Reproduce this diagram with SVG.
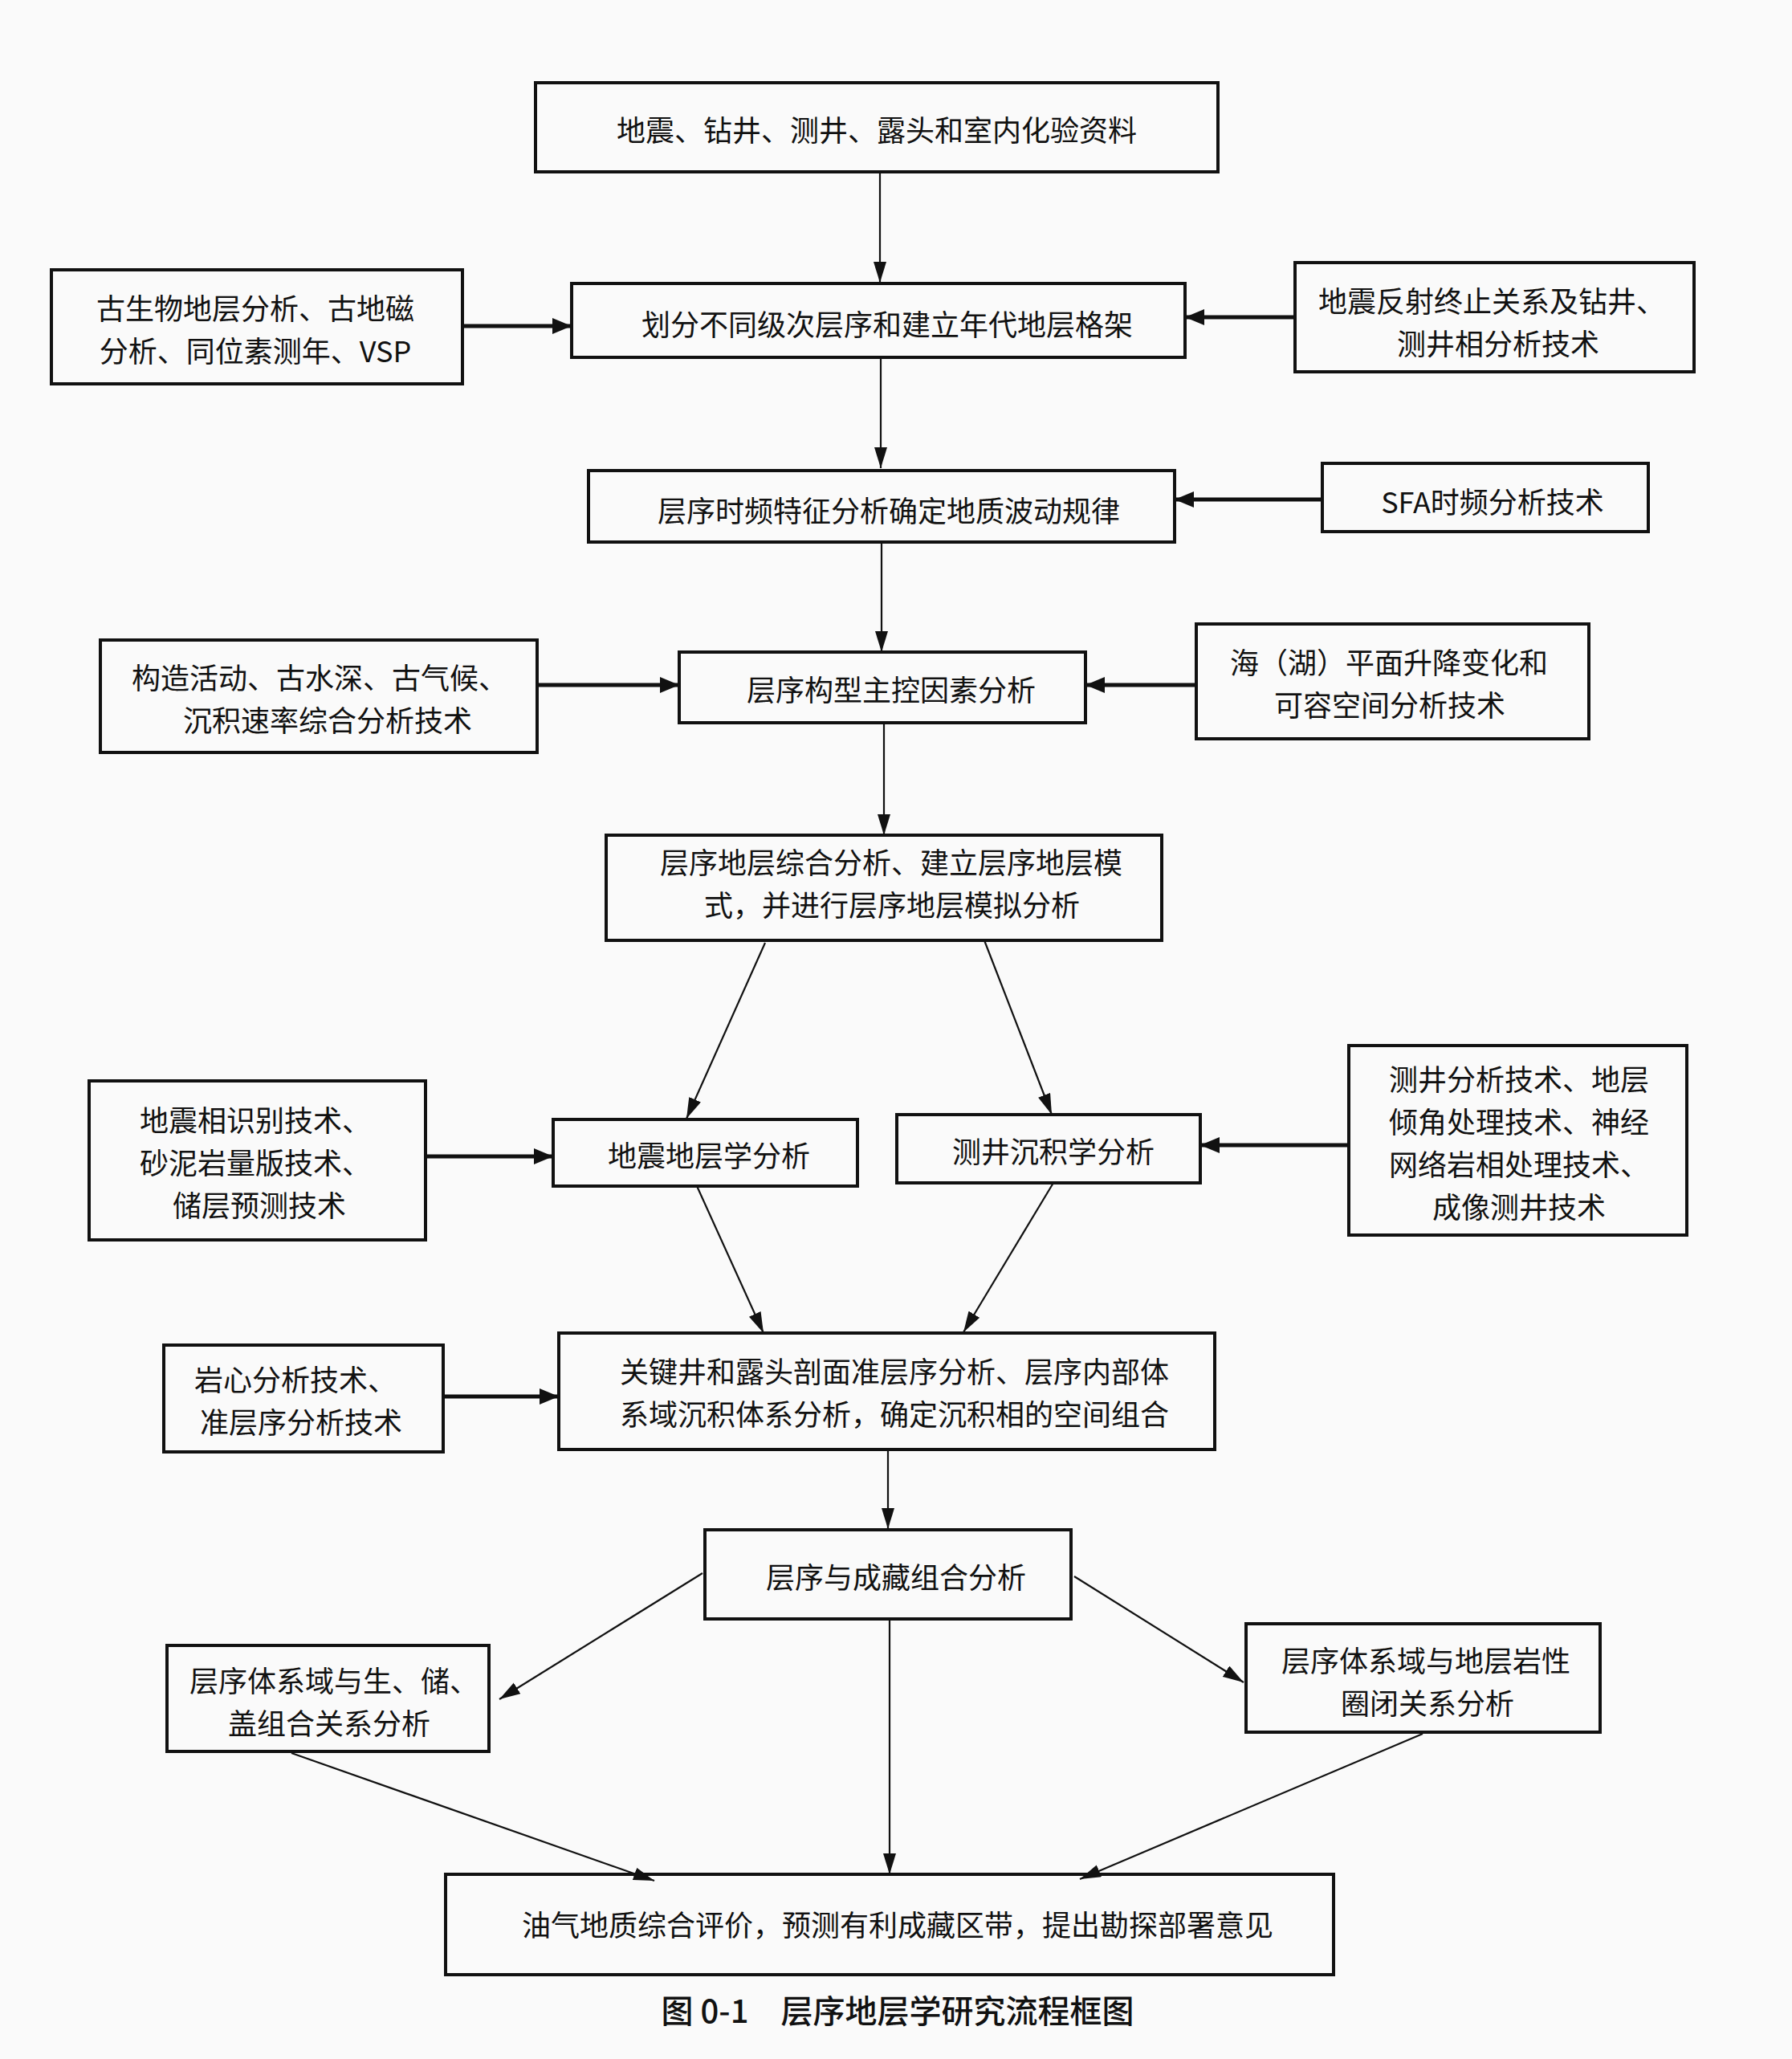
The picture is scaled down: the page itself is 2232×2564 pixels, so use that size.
<svg xmlns="http://www.w3.org/2000/svg" width="2232" height="2564" viewBox="0 0 2232 2564">
<defs>
<style>
.box{fill:none;stroke:#111;stroke-width:4}
.t{font-family:"Noto Sans CJK SC","Noto Sans",sans-serif;font-size:36px;fill:#111;text-anchor:middle;dominant-baseline:central}
.thin{stroke:#111;stroke-width:2.2;fill:none;marker-end:url(#ah)}
.thick{stroke:#111;stroke-width:5;fill:none;marker-end:url(#ahb)}
.cap{font-family:"Noto Sans CJK SC","Noto Sans",sans-serif;font-size:40px;font-weight:500;fill:#111;text-anchor:middle;dominant-baseline:central}
</style>
<marker id="ah" markerUnits="userSpaceOnUse" markerWidth="28" markerHeight="18" refX="26" refY="8" orient="auto"><path d="M0,0 L26,8 L0,16 z" fill="#111"/></marker>
<marker id="ahb" markerUnits="userSpaceOnUse" markerWidth="26" markerHeight="22" refX="24" refY="10" orient="auto"><path d="M0,0 L24,10 L0,20 z" fill="#111"/></marker>
</defs>
<rect width="2232" height="2564" fill="#fafafa"/>

<g id="connectors">
<line class="thin" x1="1096" y1="214" x2="1096" y2="352"/>
<line class="thin" x1="1097" y1="445" x2="1097" y2="583"/>
<line class="thin" x1="1098" y1="675" x2="1098" y2="812"/>
<line class="thin" x1="1101" y1="900" x2="1101" y2="1040"/>
<line class="thin" x1="1106" y1="1805" x2="1106" y2="1904"/>
<line class="thin" x1="1108" y1="2016" x2="1108" y2="2334"/>
<line class="thick" x1="576" y1="406" x2="712" y2="406"/>
<line class="thick" x1="1613" y1="395" x2="1476" y2="395"/>
<line class="thick" x1="1647" y1="622" x2="1463" y2="622"/>
<line class="thick" x1="669" y1="853" x2="846" y2="853"/>
<line class="thick" x1="1490" y1="853" x2="1352" y2="853"/>
<line class="thick" x1="530" y1="1440" x2="689" y2="1440"/>
<line class="thick" x1="1680" y1="1426" x2="1495" y2="1426"/>
<line class="thick" x1="552" y1="1739" x2="696" y2="1739"/>
<line class="thin" x1="953" y1="1174" x2="855" y2="1393"/>
<line class="thin" x1="1226" y1="1171" x2="1310" y2="1388"/>
<line class="thin" x1="868" y1="1477" x2="951" y2="1660"/>
<line class="thin" x1="1312" y1="1473" x2="1200" y2="1659"/>
<line class="thin" x1="875" y1="1959" x2="622" y2="2116"/>
<line class="thin" x1="1338" y1="1963" x2="1549" y2="2095"/>
<line class="thin" x1="363" y1="2183" x2="815" y2="2342"/>
<line class="thin" x1="1772" y1="2159" x2="1345" y2="2340"/>
</g>

<g id="n1"><rect class="box" x="667" y="103" width="850" height="111"/><text class="t" x="1092" y="160">地震、钻井、测井、露头和室内化验资料</text></g>
<g id="n2"><rect class="box" x="712" y="353" width="764" height="92"/><text class="t" x="1105" y="402">划分不同级次层序和建立年代地层格架</text></g>
<g id="n3"><rect class="box" x="64" y="336" width="512" height="142"/><text class="t"><tspan x="318" y="381.5">古生物地层分析、古地磁</tspan><tspan x="318" y="434.5">分析、同位素测年、VSP</tspan></text></g>
<g id="n4"><rect class="box" x="1613" y="327" width="497" height="136"/><text class="t"><tspan x="1858" y="372.5">地震反射终止关系及钻井、</tspan><tspan x="1866" y="425.5">测井相分析技术</tspan></text></g>
<g id="n5"><rect class="box" x="733" y="586" width="730" height="89"/><text class="t" x="1107" y="634">层序时频特征分析确定地质波动规律</text></g>
<g id="n6"><rect class="box" x="1647" y="577" width="406" height="85"/><text class="t" x="1859" y="623">SFA时频分析技术</text></g>
<g id="n7"><rect class="box" x="846" y="812" width="506" height="88"/><text class="t" x="1110" y="857">层序构型主控因素分析</text></g>
<g id="n8"><rect class="box" x="125" y="797" width="544" height="140"/><text class="t"><tspan x="398" y="841.5">构造活动、古水深、古气候、</tspan><tspan x="408" y="894.5">沉积速率综合分析技术</tspan></text></g>
<g id="n9"><rect class="box" x="1490" y="777" width="489" height="143"/><text class="t"><tspan x="1730" y="822.5">海（湖）平面升降变化和</tspan><tspan x="1731" y="875.5">可容空间分析技术</tspan></text></g>
<g id="n10"><rect class="box" x="755" y="1040" width="692" height="131"/><text class="t"><tspan x="1110" y="1071.5">层序地层综合分析、建立层序地层模</tspan><tspan x="1111" y="1124.5">式，并进行层序地层模拟分析</tspan></text></g>
<g id="n11"><rect class="box" x="111" y="1346" width="419" height="198"/><text class="t"><tspan x="318" y="1393">地震相识别技术、</tspan><tspan x="318" y="1446">砂泥岩量版技术、</tspan><tspan x="323" y="1499">储层预测技术</tspan></text></g>
<g id="n12"><rect class="box" x="689" y="1394" width="379" height="83"/><text class="t" x="883" y="1437">地震地层学分析</text></g>
<g id="n13"><rect class="box" x="1117" y="1388" width="378" height="85"/><text class="t" x="1312" y="1432">测井沉积学分析</text></g>
<g id="n14"><rect class="box" x="1680" y="1302" width="421" height="236"/><text class="t"><tspan x="1892" y="1341.5">测井分析技术、地层</tspan><tspan x="1892" y="1394.5">倾角处理技术、神经</tspan><tspan x="1892" y="1447.5">网络岩相处理技术、</tspan><tspan x="1892" y="1500.5">成像测井技术</tspan></text></g>
<g id="n15"><rect class="box" x="696" y="1660" width="817" height="145"/><text class="t"><tspan x="1114" y="1705.5">关键井和露头剖面准层序分析、层序内部体</tspan><tspan x="1114" y="1758.5">系域沉积体系分析，确定沉积相的空间组合</tspan></text></g>
<g id="n16"><rect class="box" x="204" y="1675" width="348" height="133"/><text class="t"><tspan x="368" y="1715.5">岩心分析技术、</tspan><tspan x="375" y="1768.5">准层序分析技术</tspan></text></g>
<g id="n17"><rect class="box" x="878" y="1905" width="456" height="111"/><text class="t" x="1116" y="1962">层序与成藏组合分析</text></g>
<g id="n18"><rect class="box" x="208" y="2049" width="401" height="132"/><text class="t"><tspan x="416" y="2091">层序体系域与生、储、</tspan><tspan x="410" y="2144">盖组合关系分析</tspan></text></g>
<g id="n19"><rect class="box" x="1552" y="2022" width="441" height="135"/><text class="t"><tspan x="1776" y="2065.5">层序体系域与地层岩性</tspan><tspan x="1778" y="2118.5">圈闭关系分析</tspan></text></g>
<g id="n20"><rect class="box" x="555" y="2334" width="1106" height="125"/><text class="t" x="1118" y="2395">油气地质综合评价，预测有利成藏区带，提出勘探部署意见</text></g>
<text class="cap" x="1118" y="2502">图 0-1　层序地层学研究流程框图</text>
</svg>
